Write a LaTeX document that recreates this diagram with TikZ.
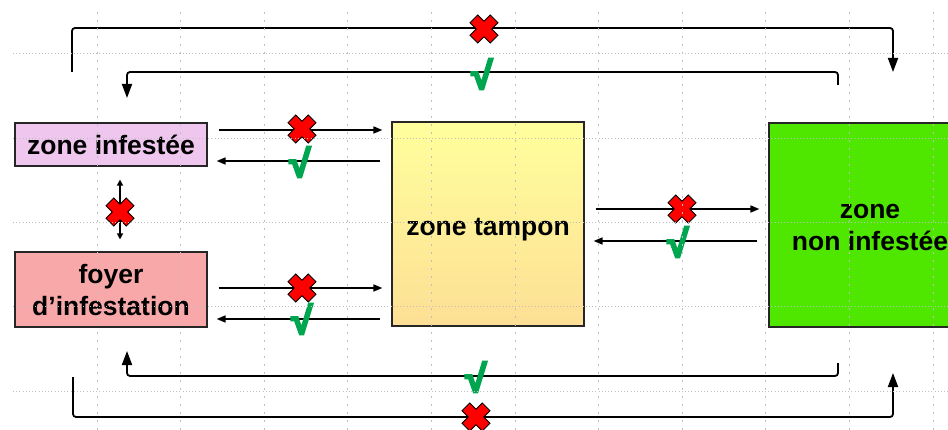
\documentclass[tikz,border=0pt]{standalone}
\usepackage{fontspec}
\setmainfont{Liberation Sans}
\newfontface\checkface[FakeBold=6]{Liberation Sans Bold}
\usepackage{xcolor}
\definecolor{lilac}{HTML}{EEC6EE}
\definecolor{salmon}{HTML}{F8A8A8}
\definecolor{paleyellow}{HTML}{FFFF9C}
\definecolor{paletan}{HTML}{FDDF95}
\definecolor{grassgreen}{HTML}{4FE600}
\definecolor{okgreen}{HTML}{00A64F}
\usepackage{tikz}
\usetikzlibrary{arrows.meta, calc}

\tikzset{
	zonebox/.style={draw=black!85, line width=1.2pt, minimum width=192pt, inner sep=0pt,
		align=center, font=\fontsize{26.5}{32}\selectfont\bfseries},
	flow/.style={-{Triangle[length=9pt, width=7pt]}, line width=1.6pt, shorten <=11pt, shorten >=9pt},
	flowback/.style={{Triangle[length=9pt, width=7pt]}-, line width=1.6pt, shorten <=9pt, shorten >=11pt},
	loopline/.style={-{Triangle[length=14pt, width=10pt]}, line width=1.8pt, rounded corners=3pt},
	okmark/.style={text=okgreen, inner sep=0pt, font=\fontsize{38}{38}\checkface},
	gridline/.style={gray!50, line width=0.7pt},
	nogo/.pic={
		\filldraw[fill=red, draw=black, line width=1pt, rotate=45]
		(-5.5,14.3) -- (5.5,14.3) -- (5.5,5.5) -- (14.3,5.5) -- (14.3,-5.5) -- (5.5,-5.5) --
		(5.5,-14.3) -- (-5.5,-14.3) -- (-5.5,-5.5) -- (-14.3,-5.5) -- (-14.3,5.5) -- (-5.5,5.5) -- cycle;
	}
}

\begin{document}
\begin{tikzpicture}[x=1pt, y=-1pt]
	
	\useasboundingbox (0,0) rectangle (948,430);
	\clip (0,0) rectangle (948,430);
	\fill[white] (0,0) rectangle (948,430);
	
	% zones
	\node[zonebox, fill=lilac, minimum height=43pt] (inf) at (111,144.5) {zone infestée};
	\node[zonebox, fill=salmon, minimum height=75pt] (foyer) at (111,289.5) {\rule{0pt}{21pt}foyer\\d’infestation};
	\node[zonebox, top color=paleyellow, bottom color=paletan, minimum height=204pt,
		text height=28pt, text depth=5.5pt] (tampon) at (488,224) {zone tampon};
	\node[zonebox, fill=grassgreen, minimum width=202pt, minimum height=204pt] (sain) at (870,225) {\rule{0pt}{20pt}zone\\non infestée};
	
	% passages between neighbouring zones
	\foreach \a/\b/\up/\down in {inf/tampon/14.5/16.5, foyer/tampon/1.5/29.5, tampon/sain/15/17} {
		\draw[flow] ($(\a.east)+(0,-\up)$) -- ($(\a.east -| \b.west)+(0,-\up)$);
		\draw[flowback] ($(\a.east)+(0,\down)$) -- ($(\a.east -| \b.west)+(0,\down)$);
	}
	\draw[{Triangle[length=6pt, width=6pt]}-{Triangle[length=6pt, width=6pt]}, line width=1.4pt,
		shorten <=13pt, shorten >=12pt] ($(inf.south)+(9,0)$) -- ($(foyer.north)+(9,0)$);
	
	% long passages
	\coordinate (topA) at (72,72);
	\coordinate (topB) at (893,72);
	\coordinate (topC) at (838,85);
	\coordinate (topD) at (127,98);
	\coordinate (botA) at (73,377);
	\coordinate (botB) at (893,373);
	\coordinate (botC) at (838,363);
	\coordinate (botD) at (127,351);
	\draw[loopline] (topA) -- ++(0,-44) -| (topB);
	\draw[loopline] (topC) -- ++(0,-13) -| (topD);
	\draw[loopline] (botC) -- ++(0,13) -| (botD);
	\draw[loopline] (botA) -- ++(0,40) -| (botB);
	
	% marks
	\foreach \x/\y [count=\i] in {302/129, 302/288, 682/209, 120/212, 484/29, 476/417} {
		\pic (nogo\i) at (\x,\y) {nogo};
	}
	\foreach \x/\y [count=\i] in {300/162, 302/319, 678/242, 482/74, 476/377} {
		\node[okmark] (ok\i) at (\x,\y) {√};
	}
	
	% grid
	\foreach \y in {53,138,222,306,391} {
		\draw[gridline, dash pattern=on 0.8pt off 2.4pt] (13,\y) -- (948,\y);
	}
	\foreach \k in {1,...,11} {
		\draw[gridline, dash pattern=on 2pt off 6pt] ({13.4+83.6*\k},12) -- ({13.4+83.6*\k},430);
	}
\end{tikzpicture}
\end{document}
